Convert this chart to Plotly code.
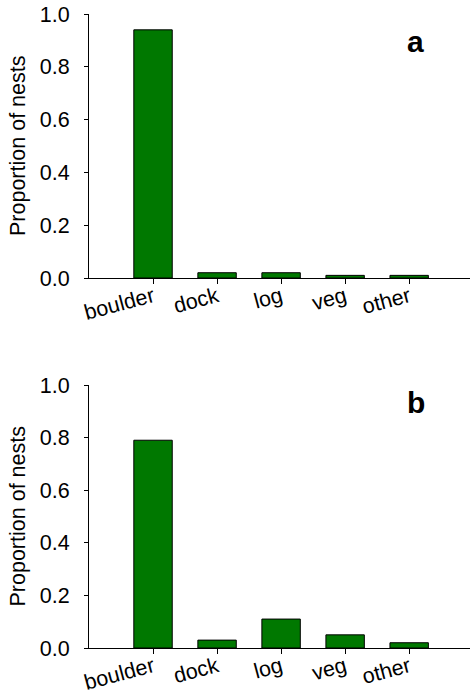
import plotly.graph_objects as go

categories = ["boulder", "dock", "log", "veg", "other"]
values_a = [0.94, 0.02, 0.02, 0.01, 0.01]
values_b = [0.79, 0.03, 0.11, 0.05, 0.02]
y_ticks = [0.0, 0.2, 0.4, 0.6, 0.8, 1.0]
y_tick_text = ["0.0", "0.2", "0.4", "0.6", "0.8", "1.0"]
panel_labels = ["a", "b"]
y_title = "Proportion of nests"

W, H = 471, 696
FONT = "Liberation Sans, Arial, sans-serif"
FS = 21.5
GREEN = "#007800"


def px_x(p):
    return p / W


def px_y(p):
    return 1 - p / H


fig = go.Figure()
xs = list(range(len(categories)))
fig.add_trace(go.Bar(x=xs, y=values_a, width=0.6, marker=dict(color=GREEN, line=dict(color="black", width=1)),
                     xaxis="x", yaxis="y", showlegend=False, hoverinfo="skip"))
fig.add_trace(go.Bar(x=xs, y=values_b, width=0.6, marker=dict(color=GREEN, line=dict(color="black", width=1)),
                     xaxis="x2", yaxis="y2", showlegend=False, hoverinfo="skip"))

xdom = [px_x(89), px_x(470)]
ydom_a = [px_y(278), px_y(14)]
ydom_b = [px_y(648), px_y(385)]


def xax(anchor):
    return dict(domain=xdom, anchor=anchor, range=[-1, 4.95], tickmode="array", tickvals=xs,
                ticktext=categories, tickangle=-15, ticks="outside", ticklen=5, tickwidth=1,
                tickcolor="black", showline=True, linecolor="black", linewidth=1, showgrid=False,
                zeroline=False, tickfont=dict(family=FONT, size=FS, color="black"),
                ticklabelstandoff=-8, automargin=False, fixedrange=True)


def yax(anchor, dom):
    return dict(domain=dom, anchor=anchor, range=[0, 1], tickmode="array", tickvals=y_ticks,
                ticktext=y_tick_text, ticks="outside", ticklen=4, tickwidth=1, tickcolor="black",
                showline=True, linecolor="black", linewidth=1, showgrid=False, zeroline=False,
                tickfont=dict(family=FONT, size=FS, color="black"), ticklabelstandoff=10,
                automargin=False, fixedrange=True)


annotations = []
for dom in [ydom_a, ydom_b]:
    annotations.append(dict(text=y_title, textangle=-90, xref="paper", yref="paper", x=px_x(18),
                            y=(dom[0] + dom[1]) / 2, showarrow=False, xanchor="center", yanchor="middle",
                            font=dict(family=FONT, size=FS, color="black")))
for lab, (lx, ly) in zip(panel_labels, [(415, 42), (416, 403)]):
    annotations.append(dict(text="<b>" + lab + "</b>", xref="paper", yref="paper", x=px_x(lx), y=px_y(ly),
                            showarrow=False, xanchor="center", yanchor="middle",
                            font=dict(family=FONT, size=30, color="black")))

fig.update_layout(
    width=W, height=H, margin=dict(l=0, r=0, t=0, b=0, autoexpand=False),
    template="none", hovermode=False,
    paper_bgcolor="white", plot_bgcolor="white", bargap=0,
    xaxis=xax("y"), yaxis=yax("x", ydom_a),
    xaxis2=xax("y2"), yaxis2=yax("x2", ydom_b),
    annotations=annotations,
)
fig.write_html("out.html", config={"displayModeBar": False, "staticPlot": True},
               post_script="document.body.style.margin='0';")
